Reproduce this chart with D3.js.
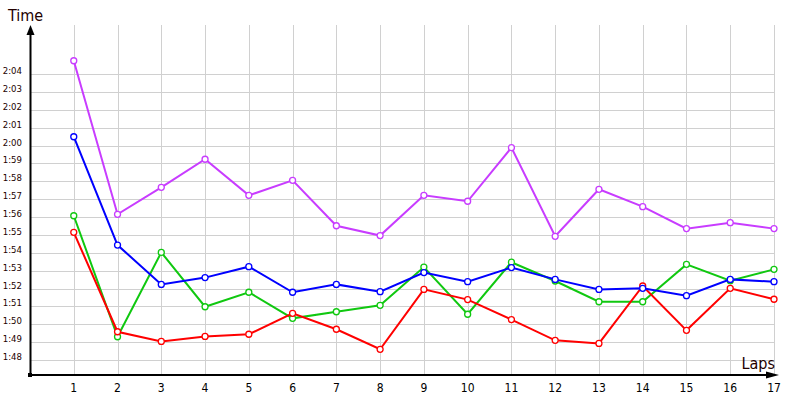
<!DOCTYPE html>
<html>
<head>
<meta charset="utf-8">
<script src="https://cdn.jsdelivr.net/npm/d3@7"></script>
<style>
  body { margin: 0; background: #fff; }
  svg { display: block; font-family: Tahoma, "DejaVu Sans Condensed", "DejaVu Sans", sans-serif; }
  .grid line { stroke: #d0d0d0; stroke-width: 1px; shape-rendering: crispEdges; }
  .ytick { font-size: 9.5px; fill: #200; }
  .xtick { font-size: 12px; fill: #000; }
  .title { font-size: 16px; fill: #200; }
</style>
</head>
<body>
<svg id="chart" width="800" height="400"></svg>
<script>
  const laps = [1, 2, 3, 4, 5, 6, 7, 8, 9, 10, 11, 12, 13, 14, 15, 16, 17];
  const timeTicks = ["1:48", "1:49", "1:50", "1:51", "1:52", "1:53", "1:54", "1:55", "1:56",
    "1:57", "1:58", "1:59", "2:00", "2:01", "2:02", "2:03", "2:04"];

  // lap times in seconds
  const purple = [124.74, 116.15, 117.66, 119.23, 117.21, 118.05, 115.51, 114.96, 117.21,
    116.88, 119.88, 114.92, 117.55, 116.58, 115.35, 115.68, 115.35];
  const blue = [120.49, 114.43, 112.23, 112.61, 113.22, 111.79, 112.23, 111.82, 112.89,
    112.38, 113.17, 112.51, 111.95, 112.01, 111.6, 112.51, 112.38];
  const green = [116.07, 109.3, 114.02, 110.98, 111.79, 110.33, 110.7, 111.06, 113.2,
    110.56, 113.47, 112.42, 111.26, 111.26, 113.35, 112.44, 113.07];
  const red = [115.14, 109.58, 109.04, 109.32, 109.44, 110.61, 109.72, 108.6, 111.95,
    111.38, 110.26, 109.1, 108.93, 112.14, 109.66, 112.01, 111.4];

  const series = [
    {name: "green", color: "#10c810", values: green},
    {name: "red", color: "#ff0000", values: red},
    {name: "blue", color: "#0000ff", values: blue},
    {name: "purple", color: "#c83cff", values: purple}
  ];

  const toSec = s => { const [m, ss] = s.split(":"); return +m * 60 + +ss; };

  const svg = d3.select("#chart");
  const x = d3.scaleLinear().domain([0, 17]).range([30, 774]);
  const y = d3.scaleLinear().domain([108, 124]).range([360, 74]);
  const yBottom = 375, yTop = 25;

  const grid = svg.append("g").attr("class", "grid");
  grid.selectAll("line.h").data(timeTicks).enter().append("line")
    .attr("class", "h")
    .attr("x1", x(0)).attr("x2", x(17) + 1)
    .attr("y1", d => Math.round(y(toSec(d))) + 0.5)
    .attr("y2", d => Math.round(y(toSec(d))) + 0.5);
  grid.selectAll("line.v").data(laps).enter().append("line")
    .attr("class", "v")
    .attr("x1", d => Math.round(x(d)) + 0.5).attr("x2", d => Math.round(x(d)) + 0.5)
    .attr("y1", yTop).attr("y2", yBottom);

  svg.selectAll("text.ytick").data(timeTicks).enter().append("text")
    .attr("class", "ytick")
    .attr("x", 22)
    .attr("y", d => Math.round(y(toSec(d))))
    .attr("text-anchor", "end")
    .text(d => d);

  svg.selectAll("text.xtick").data(laps).enter().append("text")
    .attr("class", "xtick")
    .attr("x", d => x(d))
    .attr("y", 392)
    .attr("text-anchor", "middle")
    .text(d => d);

  // axes with arrows
  svg.append("line").attr("x1", 30.5).attr("x2", 30.5).attr("y1", yBottom).attr("y2", yTop + 6)
    .attr("stroke", "#000").attr("stroke-width", 2);
  svg.append("line").attr("x1", 30).attr("x2", 772).attr("y1", yBottom).attr("y2", yBottom)
    .attr("stroke", "#000").attr("stroke-width", 2);
  svg.append("path").attr("d", `M30.5,${yTop} L26.5,${yTop + 10} L34.5,${yTop + 10} Z`).attr("fill", "#000");
  svg.append("path").attr("d", `M779,${yBottom} L766,${yBottom - 3.5} L766,${yBottom + 3.5} Z`).attr("fill", "#000");
  svg.append("rect").attr("x", 28).attr("y", yBottom - 2).attr("width", 4).attr("height", 4).attr("fill", "#000");

  svg.append("text").attr("class", "title").attr("x", 8).attr("y", 21).text("Time");
  svg.append("text").attr("class", "title").attr("x", 775).attr("y", 369)
    .attr("text-anchor", "end").text("Laps");

  const line = d3.line()
    .x((d, i) => x(laps[i]))
    .y(d => y(d));

  series.forEach(s => {
    const g = svg.append("g").attr("class", "series " + s.name);
    g.append("path").datum(s.values)
      .attr("fill", "none")
      .attr("stroke", s.color)
      .attr("stroke-width", 2)
      .attr("d", line);
    g.selectAll("circle").data(s.values).enter().append("circle")
      .attr("cx", (d, i) => x(laps[i]))
      .attr("cy", d => y(d))
      .attr("r", 3)
      .attr("fill", "#fff")
      .attr("stroke", s.color)
      .attr("stroke-width", 1.3);
  });
</script>
</body>
</html>
